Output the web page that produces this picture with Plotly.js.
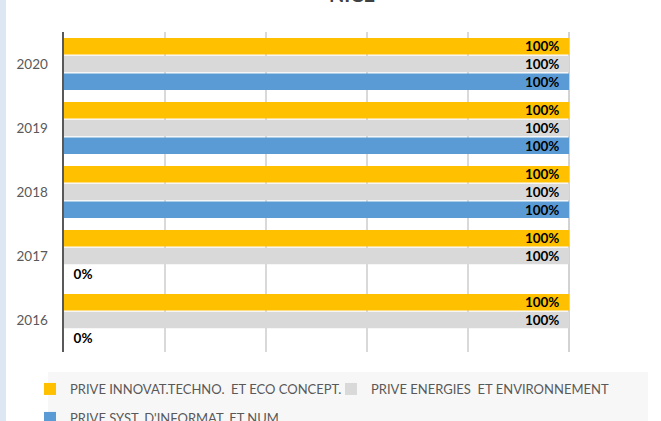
<!DOCTYPE html>
<html>
<head>
<meta charset="utf-8">
<script src="https://cdn.plot.ly/plotly-3.0.1.min.js"></script>
<style>
html,body{margin:0;padding:0;background:#fff;}
#chart{width:661px;height:421px;}
</style>
</head>
<body>
<div id="chart"></div>
<script>
// ---- data ----
var categories = ['2016', '2017', '2018', '2019', '2020'];
var seriesNames = [
  'PRIVE INNOVAT.TECHNO.  ET ECO CONCEPT.',
  'PRIVE ENERGIES  ET ENVIRONNEMENT',
  "PRIVE SYST. D'INFORMAT. ET NUM."
];
var innovValues   = [1, 1, 1, 1, 1];
var energyValues  = [1, 1, 1, 1, 1];
var systInfoValues = [0, 0, 1, 1, 1];
var chartTitle = 'NICE';

// ---- styling helpers ----
var NB = '\u00a0';
function labelText(vals) {
  return vals.map(function (v) {
    var s = Math.round(v * 100) + '%';
    return v > 0 ? s + NB + NB : NB + NB + s;
  });
}
function labelPos(vals) {
  return vals.map(function (v) { return v > 0 ? 'inside' : 'outside'; });
}
var labelFont = {family: 'Lato, "Open Sans", sans-serif', size: 13.5, color: '#000000', weight: 'bold'};

function barTrace(name, vals, color, legendId) {
  return {
    type: 'bar',
    orientation: 'h',
    name: name,
    y: categories,
    x: vals,
    marker: {color: color, line: {width: 0}},
    text: labelText(vals),
    textposition: labelPos(vals),
    insidetextanchor: 'end',
    constraintext: 'none',
    textfont: labelFont,
    insidetextfont: labelFont,
    outsidetextfont: labelFont,
    cliponaxis: false,
    hoverinfo: 'x+y+name',
    legend: legendId
  };
}

// first trace sits lowest inside each group
var data = [
  barTrace(seriesNames[2], systInfoValues, '#5b9bd5', 'legend3'),
  barTrace(seriesNames[1], energyValues, '#d9d9d9', 'legend2'),
  barTrace(seriesNames[0], innovValues, '#ffc000', 'legend')
];

var legendFont = {family: 'Lato, "Open Sans", sans-serif', size: 13, color: '#595959'};
function legendBox(xPx, topPx) {
  return {
    orientation: 'h',
    xref: 'container', yref: 'container',
    x: xPx / 661, xanchor: 'left',
    y: 1 - topPx / 421, yanchor: 'top',
    bgcolor: 'rgba(0,0,0,0)',
    font: legendFont,
    itemwidth: 30
  };
}

var layout = {
  width: 661,
  height: 421,
  margin: {l: 64, r: 92, t: 32, b: 69, pad: 0, autoexpand: false},
  paper_bgcolor: 'rgba(0,0,0,0)',
  plot_bgcolor: 'rgba(0,0,0,0)',
  barmode: 'group',
  bargap: 0.17,
  bargroupgap: 0.06,
  title: {
    text: '<b>' + chartTitle + '</b>',
    font: {family: 'Lato, "Open Sans", sans-serif', size: 20, color: '#404040'},
    x: 0.5325, xref: 'container', xanchor: 'center',
    y: 0.995, yref: 'container', yanchor: 'bottom'
  },
  xaxis: {
    range: [0, 1],
    dtick: 0.2,
    tick0: 0,
    showgrid: true,
    gridcolor: '#d9d9d9',
    gridwidth: 1.5,
    zeroline: false,
    showticklabels: false,
    showline: false,
    fixedrange: true
  },
  yaxis: {
    type: 'category',
    showline: true,
    linecolor: '#595959',
    linewidth: 2.5,
    showgrid: false,
    zeroline: false,
    ticks: '',
    ticklabelstandoff: 11,
    tickfont: {family: 'Lato, "Open Sans", sans-serif', size: 13.5, color: '#595959'},
    fixedrange: true
  },
  showlegend: true,
  legend: legendBox(30, 374),
  legend2: legendBox(331, 374),
  legend3: legendBox(30, 403),
  shapes: [
    // left page strip
    {type: 'rect', xref: 'paper', yref: 'paper', x0: -0.1267, x1: -0.1149, y0: -0.22, y1: 1.11,
     fillcolor: '#dde7f3', line: {width: 0}, layer: 'below'},
    // legend background panel
    {type: 'rect', xref: 'paper', yref: 'paper', x0: -0.0317, x1: 1.1564, y0: -0.25, y1: -0.0625,
     fillcolor: '#f7f7f7', line: {width: 0}, layer: 'below'},
    // right border of plot area
    {type: 'line', xref: 'paper', yref: 'paper', x0: 1, x1: 1, y0: 0, y1: 1,
     line: {color: '#a6a6a6', width: 1}, layer: 'below'}
  ]
};

Plotly.newPlot('chart', data, layout, {displayModeBar: false, staticPlot: true});
</script>
</body>
</html>
